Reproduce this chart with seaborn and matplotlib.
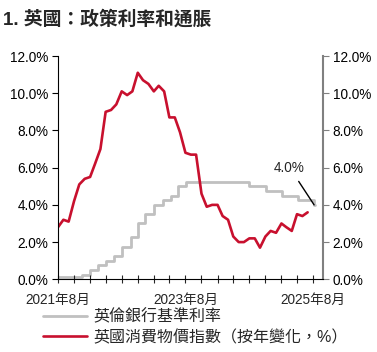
import pandas as pd
import seaborn as sns
import matplotlib.pyplot as plt
from matplotlib.ticker import FuncFormatter

# UK CPI, y/y % (monthly points, first point at left edge of axis)
cpi_start = "2021-08-01"
cpi_values = [2.8, 3.2, 3.1, 4.2, 5.1, 5.4, 5.5, 6.2, 7.0, 9.0, 9.1, 9.4,
              10.1, 9.9, 10.1, 11.1, 10.7, 10.5, 10.1, 10.4, 10.1, 8.7, 8.7, 7.9,
              6.8, 6.7, 6.7, 4.6, 3.9, 4.0, 4.0, 3.4, 3.2, 2.3, 2.0, 2.0,
              2.2, 2.2, 1.7, 2.3, 2.6, 2.5, 3.0, 2.8, 2.6, 3.5, 3.4, 3.6]

# Bank of England base rate, change dates
rate_dates = ["2021-08-01", "2021-12-16", "2022-02-03", "2022-03-17", "2022-05-05",
              "2022-06-16", "2022-08-04", "2022-09-22", "2022-11-03", "2022-12-15",
              "2023-02-02", "2023-03-23", "2023-05-11", "2023-06-22", "2023-08-03",
              "2024-08-01", "2024-11-07", "2025-02-06", "2025-05-08", "2025-08-07",
              "2025-08-10"]
rate_values = [0.1, 0.25, 0.5, 0.75, 1.0, 1.25, 1.75, 2.25, 3.0, 3.5,
               4.0, 4.25, 4.5, 5.0, 5.25, 5.0, 4.75, 4.5, 4.25, 4.0, 4.0]

tick_labels = ["2021年8月", "2023年8月", "2025年8月"]

cpi = pd.DataFrame({"date": pd.date_range(cpi_start, periods=len(cpi_values), freq="MS"),
                    "value": cpi_values})
rate = pd.DataFrame({"date": pd.to_datetime(rate_dates), "value": rate_values})

sns.set_style("white")
plt.rcParams["font.family"] = ["Liberation Sans", "Noto Sans CJK TC"]

fig = plt.figure(figsize=(3.77, 3.52), dpi=100)
ax = fig.add_axes([0.1538, 0.2065, 0.7030, 0.6344])
ax2 = ax.twinx()

grey = "#C0C0C0"
red = "#C8102E"

sns.lineplot(data=rate, x="date", y="value", ax=ax2, color=grey, lw=2.0,
             drawstyle="steps-post", label="英倫銀行基準利率", legend=False)
sns.lineplot(data=cpi, x="date", y="value", ax=ax, color=red, lw=1.9,
             label="英國消費物價指數（按年變化，%）", legend=False)
ax.set_zorder(ax2.get_zorder() + 1)
ax.patch.set_visible(False)

x0 = pd.Timestamp("2021-08-01")
x1 = pd.Timestamp("2025-09-27")
for a in (ax, ax2):
    a.set_xlim(x0, x1)
    a.set_ylim(0, 12)
    a.set_yticks(range(0, 13, 2))
    a.yaxis.set_major_formatter(FuncFormatter(lambda v, p: f"{v:.1f}%"))
    a.set_xlabel("")
    a.set_ylabel("")
    a.spines["top"].set_visible(False)

ax.spines["left"].set_color("black")
ax.spines["bottom"].set_color("black")
ax.spines["right"].set_visible(False)
ax2.spines["left"].set_visible(False)
ax2.spines["bottom"].set_visible(False)
ax2.spines["right"].set_color("#808080")
ax2.spines["right"].set_linewidth(1.5)

ax.tick_params(axis="y", direction="out", length=4, width=0.8, labelsize=9.8,
               colors="black", pad=3, left=True)
ax2.tick_params(axis="y", direction="out", length=4, width=0.8, labelsize=9.8,
                color="#808080", labelcolor="black", pad=3, right=True)

quarters = pd.date_range("2021-08-01", "2025-08-01", freq="3MS")
ax.set_xticks(quarters)
labels = [""] * len(quarters)
labels[0], labels[8], labels[16] = tick_labels
ax.set_xticklabels(labels)
ax.tick_params(axis="x", direction="inout", length=6, width=0.8, labelsize=9.8,
               bottom=True, pad=7)

# annotation for latest rate
ax2.annotate("4.0%", xy=(pd.Timestamp("2025-08-07"), 4.0),
             xytext=(pd.Timestamp("2025-03-20"), 6.0), ha="center", va="center",
             fontsize=9.8, arrowprops=dict(arrowstyle="-", color="black", lw=1,
                                           shrinkA=3, shrinkB=0))

fig.text(0.008, 0.945, "1. 英國：政策利率和通脹", fontsize=13.5, fontweight="bold",
         ha="left", va="center")

h1, l1 = ax2.get_legend_handles_labels()
h2, l2 = ax.get_legend_handles_labels()
fig.legend(h1 + h2, l1 + l2, loc="upper left", bbox_to_anchor=(0.113, 0.122),
           frameon=False, fontsize=11.5, handlelength=2.8, handletextpad=0.35,
           labelspacing=0.3, borderaxespad=0, borderpad=0)

plt.savefig("out.png", dpi=100)
